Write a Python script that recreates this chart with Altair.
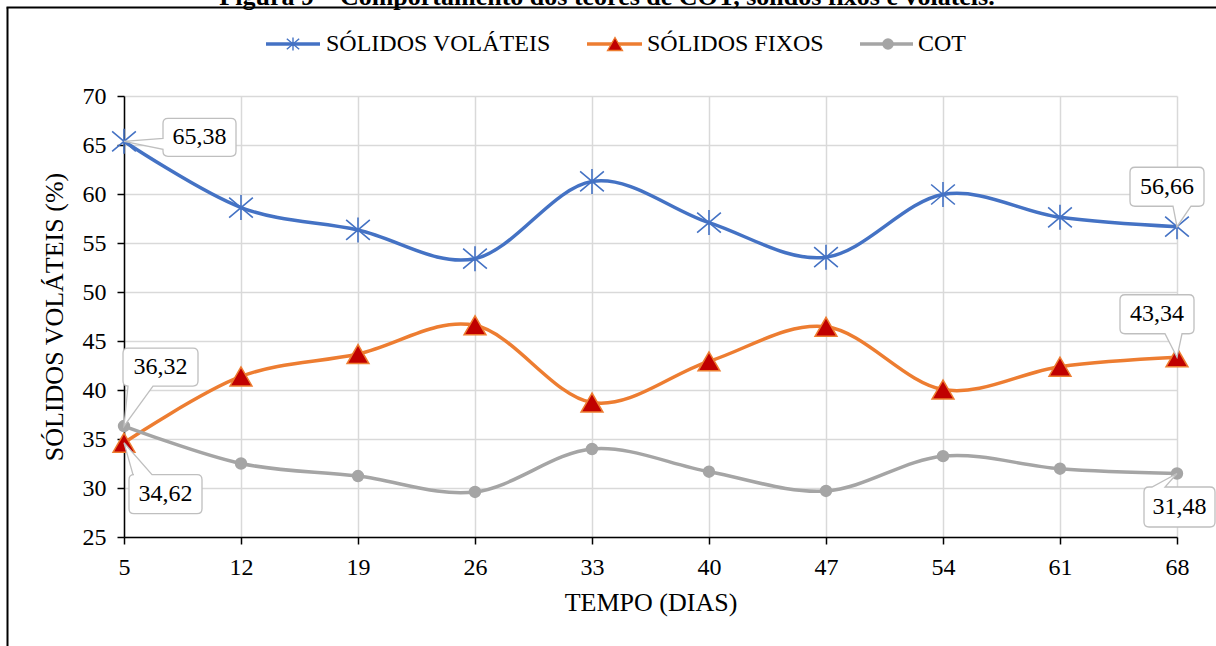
import altair as alt
import pandas as pd

# ---------------- data ----------------
dias = [5, 12, 19, 26, 33, 40, 47, 54, 61, 68]
solidos_volateis = [65.38, 58.62, 56.33, 53.40, 61.28, 57.08, 53.55, 59.95, 57.62, 56.66]
solidos_fixos = [34.62, 41.38, 43.67, 46.60, 38.72, 42.92, 46.45, 40.05, 42.38, 43.34]
cot = [36.32, 32.50, 31.22, 29.60, 33.98, 31.66, 29.70, 33.25, 31.97, 31.48]
y_ticks = [25, 30, 35, 40, 45, 50, 55, 60, 65, 70]
series_names = ["SÓLIDOS VOLÁTEIS", "SÓLIDOS FIXOS", "COT"]
titulo = "Figura 9 – Comportamento dos teores de COT, sólidos fixos e voláteis."

df = pd.DataFrame({"dia": dias, "sv": solidos_volateis, "sf": solidos_fixos, "cot": cot})

# ---------------- style ----------------
W, H = 1053, 441
FONT = "Liberation Serif"
FS = 24
BLUE, ORANGE, GRAY, RED = "#4472C4", "#ED7D31", "#A5A5A5", "#C00000"
ASTER = "M0,-1L0,1M-0.95,-0.8L0.95,0.8M-0.95,0.8L0.95,-0.8"

common_axis = dict(
    domainColor="black", domainWidth=1.5, tickColor="black", tickWidth=1.5, tickSize=7,
    labelFont=FONT, labelFontSize=FS, labelColor="black", labelPadding=11,
    titleFont=FONT, titleFontSize=26, titleColor="black", titleFontWeight="normal",
    gridColor="#D9D9D9", gridWidth=1.5, labelOverlap=False,
)

X = alt.X("dia:Q", scale=alt.Scale(domain=[5, 68], nice=False, zero=False),
          axis=alt.Axis(values=dias, title="TEMPO (DIAS)", labelFlush=False,
                        titlePadding=10, **common_axis))


def Y(field):
    return alt.Y(f"{field}:Q", scale=alt.Scale(domain=[25, 70], nice=False, zero=False),
                 axis=alt.Axis(values=y_ticks, title="SÓLIDOS VOLÁTEIS (%)",
                               titlePadding=15, **common_axis))


base = alt.Chart(df)
layers = []

# series: SV
layers.append(base.mark_line(interpolate="cardinal", color=BLUE, strokeWidth=3.5)
              .encode(x=X, y=Y("sv")))
layers.append(base.mark_point(shape=ASTER, size=625, filled=False, color=BLUE,
                              strokeWidth=1.6, opacity=1).encode(x=X, y=Y("sv")))
# series: SF
layers.append(base.mark_line(interpolate="cardinal", color=ORANGE, strokeWidth=3.5)
              .encode(x=X, y=Y("sf")))
layers.append(base.mark_point(shape="triangle-up", size=480, filled=True, fill=RED,
                              stroke=ORANGE, strokeWidth=1.5, opacity=1,
                              fillOpacity=1).encode(x=X, y=Y("sf")))
# series: COT
layers.append(base.mark_line(interpolate="cardinal", color=GRAY, strokeWidth=3.5)
              .encode(x=X, y=Y("cot")))
layers.append(base.mark_point(shape="circle", size=154, filled=True, color=GRAY,
                              opacity=1).encode(x=X, y=Y("cot")))


# ---------------- callouts ----------------
def callout_path(cx, cy, w, h, side, a, b, r=5):
    x0, x1 = cx - w / 2, cx + w / 2
    y0, y1 = cy - h / 2, cy + h / 2
    p = [f"M{x0 + r} {y0}"]
    if side == "top":
        p += [f"L{a} {y0}", "L0 0", f"L{b} {y0}"]
    p += [f"L{x1 - r} {y0}", f"Q{x1} {y0} {x1} {y0 + r}"]
    if side == "right":
        p += [f"L{x1} {a}", "L0 0", f"L{x1} {b}"]
    p += [f"L{x1} {y1 - r}", f"Q{x1} {y1} {x1 - r} {y1}"]
    if side == "bottom":
        p += [f"L{b} {y1}", "L0 0", f"L{a} {y1}"]
    p += [f"L{x0 + r} {y1}", f"Q{x0} {y1} {x0} {y1 - r}"]
    if side == "left":
        p += [f"L{x0} {b}", "L0 0", f"L{x0} {a}"]
    p += [f"L{x0} {y0 + r}", f"Q{x0} {y0} {x0 + r} {y0}", "Z"]
    return "".join(p)


callouts = [
    ("sv", 5, 75.5, -4, 73, 38, "left", -3, 8),
    ("sf", 5, 41.5, 51.5, 73, 39, "top", 9, 28),
    ("cot", 5, 36.5, -59, 75, 38, "bottom", 4, 29),
    ("sv", 68, -10, -40, 74, 39, "bottom", -4, 14),
    ("sf", 68, -20, -43, 74, 39, "bottom", -12, 5),
    ("cot", 68, 2.5, 33.5, 71, 40, "top", -25, -12),
]

for field, day, cx, cy, w, h, side, a, b in callouts:
    sub = base.transform_filter(alt.datum.dia == day)
    layers.append(sub.mark_point(shape=callout_path(cx, cy, w, h, side, a, b), size=4,
                                 filled=True, fill="white", fillOpacity=1, stroke="#BFBFBF",
                                 strokeWidth=1.3, opacity=1).encode(x=X, y=Y(field)))
    layers.append(sub.transform_calculate(lbl=f"replace(format(datum.{field}, '.2f'), '.', ',')")
                  .mark_text(dx=cx, dy=cy, font=FONT, fontSize=FS, color="black",
                             align="center", baseline="middle")
                  .encode(x=X, y=Y(field), text="lbl:N"))

# ---------------- legend (manual) ----------------
one = alt.Chart(alt.Data(values=[{"k": 1}]))
leg_y = -52
legend_items = [
    (series_names[0], BLUE, 142, 196, 169, dict(shape=ASTER, size=169, filled=False, color=BLUE, strokeWidth=1.4), 202),
    (series_names[1], ORANGE, 463, 518, 491, dict(shape="triangle-up", size=225, filled=True, fill=RED, stroke=ORANGE, strokeWidth=1.3, fillOpacity=1), 523),
    (series_names[2], GRAY, 736, 789, 764, dict(shape="circle", size=133, filled=True, color=GRAY), 794),
]
for name, col, lx0, lx1, mx, mstyle, tx in legend_items:
    layers.append(one.mark_rule(color=col, strokeWidth=3.5).encode(
        x=alt.value(lx0), x2=alt.value(lx1), y=alt.value(leg_y)))
    layers.append(one.mark_point(opacity=1, **mstyle).encode(x=alt.value(mx), y=alt.value(leg_y)))
    layers.append(one.mark_text(text=name, font=FONT, fontSize=FS, color="black", align="left",
                                baseline="middle").encode(x=alt.value(tx), y=alt.value(leg_y)))

# ---------------- frame and cut title ----------------
layers.append(one.mark_rule(color="black", strokeWidth=2).encode(
    x=alt.value(-116.5), y=alt.value(-88.5), y2=alt.value(560)))
layers.append(one.mark_rule(color="black", strokeWidth=2).encode(
    x=alt.value(-117.5), x2=alt.value(1100), y=alt.value(-88.5)))
layers.append(one.mark_text(text=titulo, font=FONT, fontSize=26, fontWeight="bold", color="black",
                            align="center", baseline="alphabetic").encode(
    x=alt.value(483), y=alt.value(-91)))

chart = alt.layer(*layers).properties(
    width=W, height=H,
    autosize=alt.AutoSizeParams(type="none"),
    padding={"left": 124, "top": 96, "right": 39, "bottom": 109},
    background="white",
).configure_view(strokeWidth=0)

chart.save("out.html", embed_options={"renderer": "svg", "actions": False})
